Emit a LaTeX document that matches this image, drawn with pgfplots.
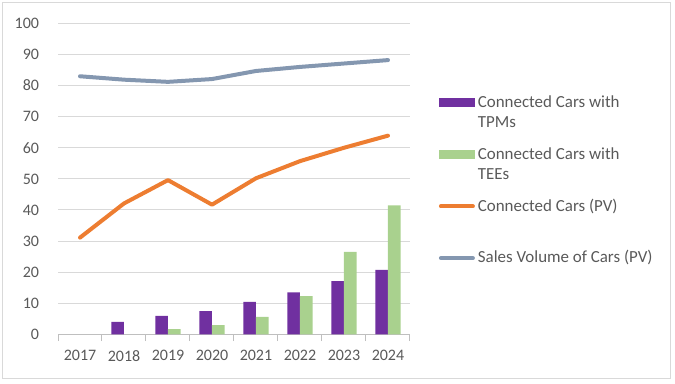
\documentclass[border=0pt]{standalone}
\usepackage{fontspec}
\setmainfont{Carlito}
\usepackage{pgfplots}
\pgfplotsset{compat=1.18}
\definecolor{tpm}{HTML}{7030A0}
\definecolor{tee}{HTML}{A9D18E}
\definecolor{cc}{HTML}{ED7D31}
\definecolor{sv}{HTML}{8497B0}
\definecolor{txt}{HTML}{595959}
\definecolor{gridc}{HTML}{D9D9D9}
\definecolor{axc}{HTML}{BFBFBF}
\newcommand{\lt}[2]{\parbox[t]{170pt}{\strut #1\\\strut #2}}
\begin{document}
\begin{tikzpicture}
\path[use as bounding box] (0,0) rectangle (506.25pt,287.25pt);
\draw[gridc, line width=0.75pt] (1.5pt,3.75pt) rectangle (502.5pt,285pt);
\begin{axis}[
  at={(43.5pt,36.5pt)}, anchor=south west,
  scale only axis, width=264pt, height=233.2pt,
  xmin=-0.5, xmax=7.5, ymin=0, ymax=100,
  ytick={0,10,...,100},
  xtick={0,...,7}, xticklabels={2017,2018,2019,2020,2021,2022,2023,2024},
  minor xtick={-0.5,0.5,...,7.5},
  major tick length=0pt, minor tick length=5pt,
  tick align=outside, xtick pos=bottom, ytick pos=left,
  axis x line*=bottom, axis y line*=left,
  x axis line style={axc, line width=0.75pt},
  y axis line style={draw=none},
  minor tick style={axc, line width=0.75pt},
  ymajorgrids, major grid style={gridc, line width=0.75pt},
  /pgf/number format/assume math mode=true,
  yticklabel style={anchor=east, inner sep=0pt, xshift=-14pt, font=\fontsize{12}{14}\selectfont, text=txt},
  xticklabel style={anchor=north, inner sep=0pt, yshift=-12pt, font=\fontsize{12}{14}\selectfont, text=txt},
  legend style={at={(1.0814,0.775)}, anchor=north west, draw=none, fill=none,
    cells={anchor=base west}, nodes={inner sep=0pt, text depth=, font=\fontsize{12.7}{15}\selectfont, text=txt},
    row sep=8.8pt, column sep=2.25pt, inner sep=0pt},
]
\addplot[fill=tpm, draw=none, ybar, bar width=9.4pt, bar shift=-4.7pt,
  legend image code/.code={\fill[tpm] (0pt,0.125pt) rectangle (27pt,6.875pt);}]
  coordinates {(1,4.0)(2,5.9)(3,7.5)(4,10.4)(5,13.5)(6,17.1)(7,20.7)};
\addlegendentry{\lt{Connected Cars with}{TPMs}}
\addplot[fill=tee, draw=none, ybar, bar width=9.4pt, bar shift=4.7pt,
  legend image code/.code={\fill[tee] (0pt,0.125pt) rectangle (27pt,6.875pt);}]
  coordinates {(2,1.7)(3,3.0)(4,5.6)(5,12.3)(6,26.5)(7,41.5)};
\addlegendentry{\lt{Connected Cars with}{TEEs}}
\addplot[cc, line width=3pt, line join=round, line cap=round, mark=none,
  legend image code/.code={\draw[cc, line width=3pt, line cap=round] (1.5pt,3.5pt) -- (25.5pt,3.5pt);}]
  coordinates {(0,31.1)(1,42.1)(2,49.6)(3,41.7)(4,50.2)(5,55.7)(6,60.0)(7,63.9)};
\addlegendentry{\lt{Connected Cars (PV)}{}}
\addplot[sv, line width=3pt, line join=round, line cap=round, mark=none,
  legend image code/.code={\draw[sv, line width=3pt, line cap=round] (1.5pt,3.5pt) -- (25.5pt,3.5pt);}]
  coordinates {(0,83.0)(1,81.9)(2,81.2)(3,82.1)(4,84.7)(5,86.0)(6,87.1)(7,88.2)};
\addlegendentry{\lt{Sales Volume of Cars (PV)}{}}
\end{axis}
\end{tikzpicture}
\end{document}
